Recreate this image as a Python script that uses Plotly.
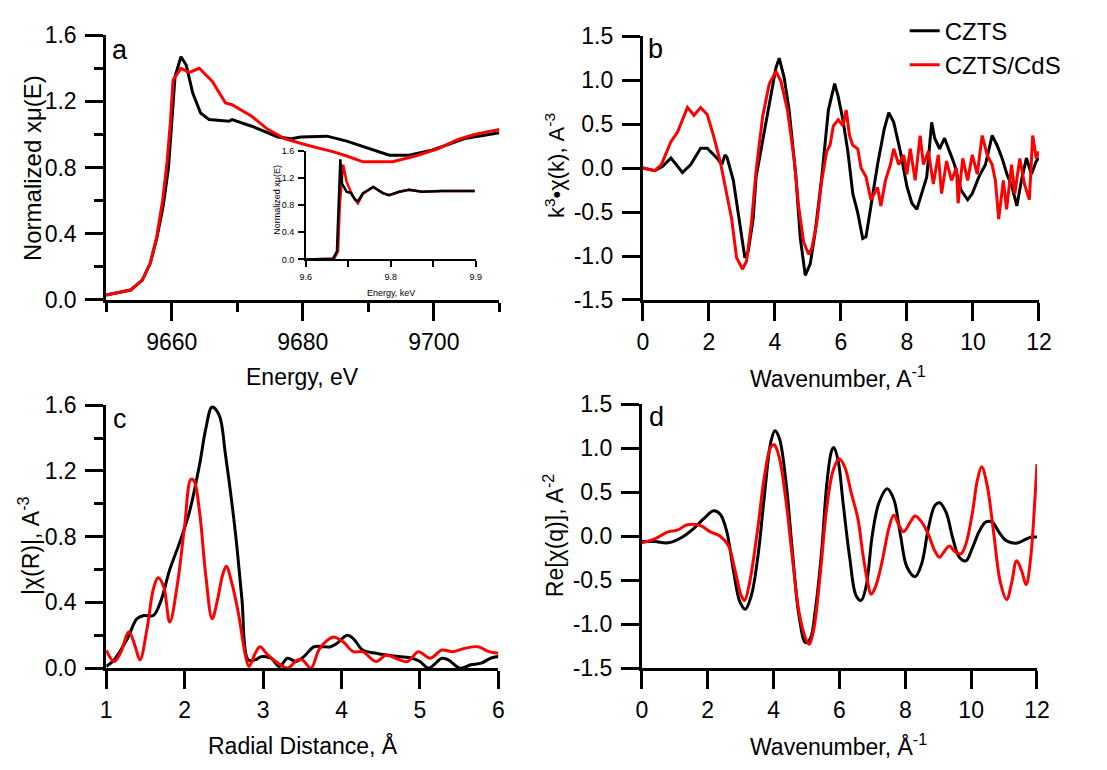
import plotly.graph_objects as go

FONT = "Liberation Sans"
BLACK = "#000000"
RED = "#ff0000"

# ---------------- Panel a: XANES ----------------
a_E_czts = [9650, 9653.7, 9655.5, 9656.7, 9657.7, 9658.7, 9659.5, 9660.0, 9660.5, 9661.4,
            9662.2, 9663.2, 9664.4, 9665.7, 9668.7, 9669.2, 9672.2, 9676.2, 9678.2, 9679.7,
            9683.7, 9686.7, 9689.7, 9693.2, 9696.2, 9699.7, 9704.7, 9710]
a_y_czts = [0.03, 0.06, 0.12, 0.22, 0.37, 0.57, 0.80, 1.05, 1.35, 1.47,
            1.42, 1.25, 1.13, 1.09, 1.08, 1.09, 1.05, 0.985, 0.975, 0.985,
            0.99, 0.96, 0.92, 0.875, 0.875, 0.905, 0.975, 1.01]
a_E_cds = [9650, 9653.7, 9655.5, 9656.7, 9657.7, 9658.6, 9659.3, 9659.8, 9660.2, 9661.4,
           9662.7, 9664.2, 9666.2, 9668.2, 9669.2, 9672.2, 9674.7, 9677.2, 9680.7, 9684.7,
           9686.7, 9689.2, 9693.7, 9697.2, 9700.7, 9703.7, 9706.2, 9710]
a_y_cds = [0.03, 0.06, 0.12, 0.22, 0.38, 0.60, 0.84, 1.08, 1.33, 1.40,
           1.375, 1.40, 1.32, 1.19, 1.18, 1.11, 1.03, 0.975, 0.935, 0.895,
           0.87, 0.835, 0.835, 0.87, 0.915, 0.97, 1.00, 1.03]

# inset (keV)
in_E_czts = [9.60, 9.63, 9.648, 9.655, 9.658, 9.661, 9.664, 9.672, 9.680, 9.687, 9.692, 9.701,
             9.719, 9.736, 9.747, 9.765, 9.782, 9.805, 9.84, 9.898]
in_y_czts = [0.0, 0.0, 0.01, 0.12, 0.8, 1.48, 1.12, 1.00, 0.98, 0.88, 0.86, 0.98,
             1.07, 0.98, 0.95, 1.00, 1.03, 1.00, 1.01, 1.01]
in_E_cds = [9.60, 9.63, 9.650, 9.657, 9.660, 9.666, 9.672, 9.682, 9.692, 9.701,
            9.719, 9.736, 9.747, 9.765, 9.782, 9.805, 9.84, 9.898]
in_y_cds = [0.0, 0.0, 0.01, 0.12, 0.8, 1.40, 1.15, 0.95, 0.83, 0.97,
            1.07, 0.98, 0.95, 1.00, 1.03, 1.00, 1.01, 1.01]

# ---------------- Panel b: k^3 chi(k) ----------------
b_k_czts = [0, 0.36, 0.6, 0.85, 1.2, 1.45, 1.75, 1.95, 2.24, 2.39, 2.49, 2.55, 2.74, 2.94, 3.09,
            3.19, 3.34, 3.43, 3.63, 3.83, 4.03, 4.13, 4.28, 4.43, 4.63, 4.77, 4.92, 5.07, 5.22,
            5.42, 5.62, 5.81, 5.92, 6.06, 6.21, 6.36, 6.51, 6.66, 6.76, 6.91, 7.11, 7.31, 7.45,
            7.60, 7.80, 8.0, 8.15, 8.30, 8.45, 8.6, 8.75, 8.84, 8.99, 9.14, 9.29, 9.44, 9.64,
            9.84, 9.98, 10.18, 10.38, 10.58, 10.73, 10.88, 11.03, 11.18, 11.33, 11.47, 11.62,
            11.77, 11.92, 12.0]
b_y_czts = [0, -0.03, 0.02, 0.115, -0.05, 0.04, 0.225, 0.225, 0.115, 0.04, 0.15, 0.12, -0.14,
            -0.62, -1.02, -0.95, -0.58, -0.1, 0.30, 0.74, 1.14, 1.25, 1.03, 0.66, -0.07, -0.80,
            -1.22, -1.09, -0.73, -0.10, 0.66, 0.96, 0.81, 0.55, 0.19, -0.29, -0.51, -0.80,
            -0.78, -0.43, 0.04, 0.44, 0.63, 0.52, 0.19, -0.21, -0.40, -0.47, -0.29, -0.10,
            0.52, 0.34, 0.22, 0.34, 0.19, 0.04, -0.25, -0.36, -0.29, -0.10, 0.04, 0.37, 0.26,
            0.115, -0.07, -0.21, -0.43, -0.14, 0.115, -0.07, 0.08, 0.115]
b_k_cds = [0, 0.36, 0.56, 0.85, 1.05, 1.30, 1.35, 1.55, 1.75, 1.95, 2.14, 2.34, 2.54, 2.69,
           2.84, 3.02, 3.14, 3.29, 3.43, 3.63, 3.83, 4.03, 4.18, 4.38, 4.58, 4.72, 4.87, 5.02,
           5.12, 5.27, 5.42, 5.57, 5.67, 5.77, 5.92, 6.06, 6.16, 6.26, 6.36, 6.51, 6.61, 6.76,
           6.91, 7.11, 7.21, 7.35, 7.50, 7.60, 7.75, 7.9, 8.0, 8.1, 8.25, 8.4, 8.5, 8.65, 8.8,
           8.95, 9.05, 9.2, 9.35, 9.5, 9.55, 9.69, 9.84, 9.98, 10.13, 10.28, 10.43, 10.58,
           10.68, 10.78, 10.92, 11.02, 11.17, 11.27, 11.42, 11.56, 11.71, 11.81, 11.92, 12.0]
b_y_cds = [0, -0.03, 0.04, 0.30, 0.41, 0.66, 0.69, 0.60, 0.69, 0.61, 0.37, 0.08, -0.29, -0.58,
           -1.02, -1.15, -1.06, -0.62, -0.03, 0.59, 0.96, 1.10, 0.99, 0.66, 0.11, -0.44, -0.84,
           -0.98, -0.91, -0.62, -0.14, 0.19, 0.26, 0.48, 0.55, 0.48, 0.66, 0.37, 0.26, 0.22,
           0.0, -0.10, -0.36, -0.22, -0.43, -0.14, 0.04, 0.22, 0.04, 0.15, -0.07, 0.22, -0.14,
           0.37, 0.04, 0.19, -0.18, 0.15, -0.29, 0.08, -0.14, 0.0, -0.40, 0.11, -0.14, 0.15,
           -0.07, 0.37, 0.15, 0.04, -0.14, -0.58, -0.14, -0.47, 0.04, -0.29, 0.11, -0.18,
           -0.36, 0.37, 0.11, 0.19]

# ---------------- Panel c: |chi(R)| ----------------
c_r_czts = [1.0, 1.1, 1.27, 1.39, 1.48, 1.60, 1.69, 1.81, 1.94, 2.06, 2.19, 2.27, 2.35, 2.44,
            2.52, 2.65, 2.73, 2.81, 2.90, 2.98, 3.1, 3.21, 3.31, 3.42, 3.52, 3.65, 3.77, 3.86,
            3.94, 4.07, 4.15, 4.27, 4.44, 4.57, 4.73, 4.9, 5.0, 5.11, 5.28, 5.36, 5.51, 5.65,
            5.78, 5.9, 6.0]
c_y_czts = [0.01, 0.05, 0.18, 0.30, 0.32, 0.32, 0.40, 0.60, 0.77, 0.95, 1.24, 1.46, 1.59, 1.54,
            1.30, 0.81, 0.42, 0.05, 0.05, 0.07, 0.06, 0.01, 0.06, 0.04, 0.07, 0.13, 0.13, 0.13,
            0.15, 0.20, 0.18, 0.11, 0.09, 0.08, 0.07, 0.06, 0.04, 0.0, 0.06, 0.05, 0.0, 0.02,
            0.03, 0.06, 0.07]
c_r_cds = [1.0, 1.1, 1.18, 1.29, 1.37, 1.43, 1.52, 1.60, 1.66, 1.73, 1.81, 1.91, 2.0, 2.08,
           2.12, 2.19, 2.27, 2.35, 2.42, 2.48, 2.53, 2.6, 2.69, 2.77, 2.82, 2.90, 2.96, 3.06,
           3.19, 3.31, 3.44, 3.50, 3.61, 3.71, 3.82, 3.90, 4.02, 4.15, 4.27, 4.44, 4.57, 4.69,
           4.84, 4.98, 5.13, 5.28, 5.42, 5.57, 5.74, 5.88, 6.0]
c_y_cds = [0.11, 0.04, 0.09, 0.22, 0.13, 0.05, 0.24, 0.48, 0.55, 0.50, 0.28, 0.52, 0.87, 1.15,
           1.14, 0.95, 0.56, 0.30, 0.42, 0.56, 0.62, 0.52, 0.32, 0.09, 0.01, 0.09, 0.13, 0.08,
           0.03, 0.0, 0.05, 0.05, 0.0, 0.11, 0.17, 0.19, 0.16, 0.10, 0.10, 0.04, 0.08, 0.06,
           0.04, 0.10, 0.06, 0.11, 0.10, 0.12, 0.13, 0.10, 0.09]

# ---------------- Panel d: Re[chi(q)] ----------------
d_q_czts = [0, 0.39, 0.79, 1.18, 1.58, 1.88, 2.18, 2.38, 2.58, 2.78, 2.98, 3.14, 3.32, 3.52,
            3.72, 3.92, 4.04, 4.17, 4.37, 4.57, 4.77, 4.97, 5.11, 5.26, 5.46, 5.61, 5.76, 5.83,
            5.96, 6.11, 6.31, 6.51, 6.66, 6.81, 7.0, 7.2, 7.45, 7.65, 7.85, 8.05, 8.30, 8.5,
            8.70, 8.9, 9.04, 9.24, 9.44, 9.64, 9.84, 10.04, 10.24, 10.44, 10.64, 10.84, 11.03,
            11.23, 11.43, 11.63, 11.83, 12.0]
d_y_czts = [-0.06, -0.06, -0.075, -0.02, 0.09, 0.20, 0.29, 0.25, 0.05, -0.39, -0.75, -0.83,
            -0.68, -0.24, 0.46, 1.08, 1.20, 1.12, 0.64, -0.17, -0.90, -1.21, -1.17, -0.86,
            -0.17, 0.57, 0.97, 1.01, 0.86, 0.38, -0.24, -0.68, -0.73, -0.57, 0.02, 0.38, 0.54,
            0.42, 0.02, -0.35, -0.46, -0.31, 0.09, 0.35, 0.38, 0.27, -0.02, -0.24, -0.28, -0.13,
            0.05, 0.16, 0.16, 0.05, -0.04, -0.075, -0.075, -0.04, -0.01, -0.01]
d_q_cds = [0, 0.39, 0.79, 1.08, 1.38, 1.78, 2.08, 2.38, 2.63, 2.83, 3.02, 3.12, 3.27, 3.52,
           3.72, 3.92, 4.02, 4.17, 4.37, 4.57, 4.77, 4.97, 5.08, 5.21, 5.41, 5.61, 5.81, 5.99,
           6.16, 6.36, 6.56, 6.71, 6.86, 6.96, 7.10, 7.30, 7.5, 7.65, 7.80, 7.95, 8.15, 8.30,
           8.5, 8.70, 8.9, 9.04, 9.19, 9.34, 9.49, 9.69, 9.84, 10.04, 10.19, 10.32, 10.49,
           10.69, 10.89, 11.08, 11.23, 11.38, 11.53, 11.67, 11.81, 11.93, 12.0]
d_y_cds = [-0.075, -0.03, 0.05, 0.07, 0.13, 0.12, 0.05, 0.0, -0.11, -0.39, -0.68, -0.73, -0.53,
           0.09, 0.68, 1.02, 1.04, 0.90, 0.42, -0.24, -0.86, -1.16, -1.23, -1.08, -0.46, 0.31,
           0.75, 0.88, 0.79, 0.49, 0.20, -0.20, -0.53, -0.66, -0.57, -0.28, 0.09, 0.24, 0.13,
           0.05, 0.16, 0.23, 0.16, 0.02, -0.17, -0.24, -0.17, -0.11, -0.17, -0.20, -0.09, 0.27,
           0.64, 0.79, 0.57, 0.02, -0.53, -0.72, -0.53, -0.28, -0.39, -0.55, -0.24, 0.38, 0.82]

# tick labels
a_xticks = [9660, 9680, 9700]
a_yticks = [0.0, 0.4, 0.8, 1.2, 1.6]
a_ylabels = ["0.0", "0.4", "0.8", "1.2", "1.6"]
k_xticks = [0, 2, 4, 6, 8, 10, 12]
k_yticks = [-1.5, -1.0, -0.5, 0.0, 0.5, 1.0, 1.5]
k_ylabels = ["-1.5", "-1.0", "-0.5", "0.0", "0.5", "1.0", "1.5"]
c_xticks = [1, 2, 3, 4, 5, 6]
in_xticks = [9.6, 9.75, 9.9]
in_xlabels = ["9.6", "9.8", "9.9"]
in_xminor = [9.675, 9.825]

fig = go.Figure()


def add(x, y, name, color, xa, ya, legend=False, shape="linear", width=3):
    fig.add_trace(go.Scatter(x=x, y=y, mode="lines", name=name,
                             line=dict(color=color, width=width, shape=shape),
                             xaxis=xa, yaxis=ya, showlegend=legend, legendgroup=name))


add(a_E_czts, a_y_czts, "CZTS", BLACK, "x", "y")
add(a_E_cds, a_y_cds, "CZTS/CdS", RED, "x", "y")
add(in_E_cds, in_y_cds, "CZTS/CdS", RED, "x5", "y5", width=2.5)
add(in_E_czts, in_y_czts, "CZTS", BLACK, "x5", "y5", width=2.5)
add(b_k_czts, b_y_czts, "CZTS", BLACK, "x2", "y2", legend=True)
add(b_k_cds, b_y_cds, "CZTS/CdS", RED, "x2", "y2", legend=True)
add(c_r_czts, c_y_czts, "CZTS", BLACK, "x3", "y3", shape="spline")
add(c_r_cds, c_y_cds, "CZTS/CdS", RED, "x3", "y3", shape="spline")
add(d_q_czts, d_y_czts, "CZTS", BLACK, "x4", "y4", shape="spline")
add(d_q_cds, d_y_cds, "CZTS/CdS", RED, "x4", "y4", shape="spline")

W, H = 1107, 770


def px_x(a, b):
    return [a / W, b / W]


def px_y(top, bottom):
    return [1 - bottom / H, 1 - top / H]


def ax(domain, rng, anchor, tickvals, ticktext=None, minor_vals=None,
       ticklen=18, minorlen=9, tickw=3, linew=3, fsize=23, standoff=None):
    d = dict(domain=domain, range=rng, anchor=anchor, tickmode="array", tickvals=tickvals,
             showline=True, linecolor="black", linewidth=linew, mirror=False,
             ticks="outside", ticklen=ticklen, tickwidth=tickw, tickcolor="black",
             showgrid=False, zeroline=False,
             tickfont=dict(family=FONT, size=fsize, color="black"))
    if ticktext is not None:
        d["ticktext"] = ticktext
    if minor_vals is not None:
        d["minor"] = dict(tickmode="array", tickvals=minor_vals, ticks="outside",
                          ticklen=minorlen, tickwidth=tickw, tickcolor="black",
                          showgrid=False)
    if standoff is not None:
        d["ticklabelstandoff"] = standoff
    return d


fig.update_layout(
    width=W, height=H, margin=dict(l=0, r=0, t=0, b=0),
    paper_bgcolor="white", plot_bgcolor="rgba(0,0,0,0)",
    font=dict(family=FONT, color="black"),
    xaxis=ax(px_x(102, 502), [9650, 9710], "y", a_xticks,
             minor_vals=[9650, 9670, 9690, 9710], standoff=1),
    yaxis=ax(px_y(23, 297), [0, 1.6], "x", a_yticks, a_ylabels,
             minor_vals=[0.2, 0.6, 1.0, 1.4], standoff=4),
    xaxis2=ax(px_x(648, 1051), [0, 12], "y2", k_xticks, standoff=1),
    yaxis2=ax(px_y(24, 297), [-1.5, 1.5], "x2", k_yticks, k_ylabels, standoff=4),
    xaxis3=ax(px_x(102, 501), [1, 6], "y3", c_xticks, standoff=1),
    yaxis3=ax(px_y(406, 678), [0, 1.6], "x3", a_yticks, a_ylabels,
              minor_vals=[0.2, 0.6, 1.0, 1.4], standoff=4),
    xaxis4=ax(px_x(647, 1049), [0, 12], "y4", k_xticks, standoff=1),
    yaxis4=ax(px_y(405, 678), [-1.5, 1.5], "x4", k_yticks, k_ylabels, standoff=4),
    xaxis5=ax(px_x(305, 478), [9.6, 9.9], "y5", in_xticks, in_xlabels, minor_vals=in_xminor,
              ticklen=6, minorlen=6, tickw=1.5, linew=1.5, fsize=9, standoff=2),
    yaxis5=ax(px_y(143, 255), [0, 1.6], "x5", a_yticks, a_ylabels,
              ticklen=6, tickw=1.5, linew=1.5, fsize=9, standoff=2),
    legend=dict(x=0.826, y=1.006, xanchor="left", yanchor="top",
                font=dict(family=FONT, size=24, color="black"),
                bgcolor="rgba(0,0,0,0)", tracegroupgap=0, itemwidth=30),
    showlegend=True,
)


def note(text, x, y, size=23, angle=0):
    fig.add_annotation(text=text, x=x / W, y=1 - y / H, xref="paper", yref="paper",
                       showarrow=False, textangle=angle, xanchor="center", yanchor="middle",
                       font=dict(family=FONT, size=size, color="black"))


# panel letters
note("a", 116, 38, size=27)
note("b", 661, 37, size=27)
note("c", 116, 420, size=27)
note("d", 662, 418, size=27)

# axis titles
note("Energy, eV", 302, 377)
note("Normalized xμ(E)", 27, 161, size=24, angle=-90)
note("Wavenumber, A<sup>-1</sup>", 847, 377)
note("k<sup>3</sup>•χ(k), A<sup>-3</sup>", 558, 158, size=22, angle=-90)
note("Radial Distance, Å", 302, 758)
note("|χ(R)|, A<sup>-3</sup>", 24, 552, angle=-90)
note("Wavenumber, Å<sup>-1</sup>", 847, 758)
note("Re[χ(q)], A<sup>-2</sup>", 557, 540, angle=-90)

# inset titles
note("Energy, keV", 392, 290, size=9)
note("Normalized xμ(E)", 276, 193, size=9, angle=-90)

fig.write_html("out.html")
